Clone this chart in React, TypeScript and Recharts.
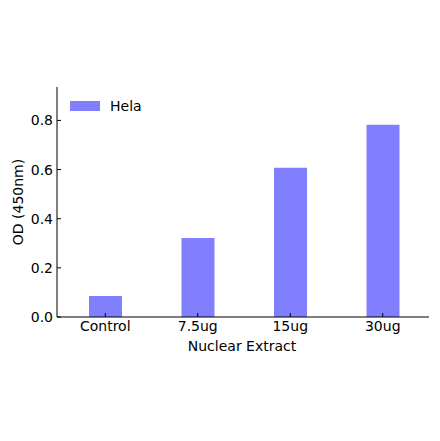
import React from 'react';
import { BarChart, Bar, XAxis, YAxis, Legend, Label } from 'recharts';

const categories = ['Control', '7.5ug', '15ug', '30ug'];
const helaValues = [0.085, 0.322, 0.607, 0.782];
const yTicks = [0, 0.2, 0.4, 0.6, 0.8];

const FONT = '"DejaVu Sans", sans-serif';
const BAR_COLOR = '#8080ff';

const data = categories.map((name, i) => ({ name, hela: helaValues[i] }));

// zero-height wrapper so the legend does not push the plot area down
const LegendBox = () => (
  <div style={{ height: 0, overflow: 'visible' }}>
    <div style={{ display: 'flex', alignItems: 'center', fontFamily: FONT, fontSize: 14, color: '#000' }}>
      <div style={{ width: 30, height: 10, background: BAR_COLOR, marginRight: 10 }} />
      <span>Hela</span>
    </div>
  </div>
);

export default function App() {
  return (
    <div style={{ position: 'absolute', left: 0, top: 0, width: 440, height: 441, background: '#fff' }}>
      <BarChart
        width={440}
        height={441}
        data={data}
        margin={{ top: 87, right: 11, bottom: 84, left: 0 }}
        barCategoryGap={0}
      >
        <XAxis
          dataKey="name"
          height={40}
          padding={{ left: 2, right: 0 }}
          stroke="#000"
          tickSize={-4}
          tickMargin={8}
          tick={{ fill: '#000', fontSize: 14, fontFamily: FONT }}
        >
          <Label
            content={({ viewBox }: any) => (
              <text
                x={viewBox.x + viewBox.width / 2 - 1}
                y={351}
                textAnchor="middle"
                fill="#000"
                fontSize={14}
                fontFamily={FONT}
              >
                Nuclear Extract
              </text>
            )}
          />
        </XAxis>
        <YAxis
          width={57}
          domain={[0, 0.936]}
          ticks={yTicks}
          stroke="#000"
          tickSize={-4}
          tickMargin={8}
          tickFormatter={(v: number) => v.toFixed(1)}
          tick={{ fill: '#000', fontSize: 14, fontFamily: FONT }}
        >
          <Label
            content={() => (
              <text
                x={18}
                y={202}
                transform="rotate(-90 18 202)"
                textAnchor="middle"
                dominantBaseline="central"
                fill="#000"
                fontSize={14}
                fontFamily={FONT}
              >
                OD (450nm)
              </text>
            )}
          />
        </YAxis>
        <Legend
          verticalAlign="top"
          align="left"
          content={() => <LegendBox />}
          wrapperStyle={{ left: 70, top: 98, width: 'auto', height: 0 }}
        />
        <Bar dataKey="hela" name="Hela" fill={BAR_COLOR} barSize={33} isAnimationActive={false} />
      </BarChart>
    </div>
  );
}
